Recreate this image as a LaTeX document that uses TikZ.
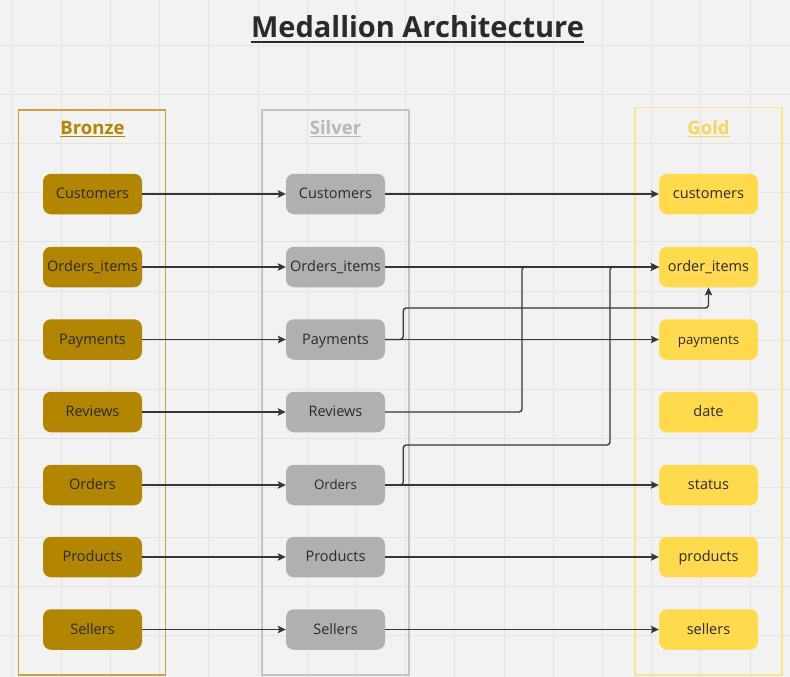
\documentclass[tikz,border=0pt]{standalone}
\usepackage{fontspec}
\setmainfont{Open Sans}
\usetikzlibrary{arrows.meta}

\definecolor{paper}{HTML}{F2F2F2}
\definecolor{gridgray}{HTML}{E3E3E3}
\definecolor{bronzefill}{HTML}{B38600}
\definecolor{bronzeline}{HTML}{CCA23E}
\definecolor{silverfill}{HTML}{B0B0B0}
\definecolor{silverline}{HTML}{C3C3C3}
\definecolor{silvertitle}{HTML}{B8B8B8}
\definecolor{goldfill}{HTML}{FFDA4C}
\definecolor{goldline}{HTML}{FAE38A}
\definecolor{goldtitle}{HTML}{F5D65C}
\definecolor{ink}{HTML}{2A2A2A}
\definecolor{wire}{HTML}{353535}

\tikzset{
  table/.style={rectangle, rounded corners=8pt, minimum width=99pt, minimum height=40.5pt,
    inner sep=0pt, text height=10.5pt, text depth=1.5pt, text=ink, font=\fontsize{14.5}{16}\selectfont},
  bronze/.style={table, fill=bronzefill},
  silver/.style={table, fill=silverfill},
  gold/.style={table, fill=goldfill},
  small/.style={font=\fontsize{13.3}{15}\selectfont},
  layer/.style={draw, line width=1.4pt, fill=none},
  heading/.style={inner sep=0pt, anchor=base, font=\bfseries\fontsize{18.5}{20}\selectfont},
  flow/.style={draw=wire, line width=1.3pt, rounded corners=3pt,
    -{Stealth[length=8pt, width=7.5pt, inset=1.5pt]}}
}

\begin{document}
\begin{tikzpicture}[x=1pt, y=-1pt]
\useasboundingbox (0,0) rectangle (790,677);
\fill[paper] (0,0) rectangle (790,677);
\foreach \i in {0,...,15} \draw[gridgray, line width=0.8pt] (12+49.2*\i,0) -- (12+49.2*\i,677);
\foreach \i in {0,...,12} \draw[gridgray, line width=0.8pt] (0,45+49.2*\i) -- (790,45+49.2*\i);

% title
\node[heading, font=\bfseries\fontsize{29}{32}\selectfont, text=ink] (title) at (417.5,38) {Medallion Architecture};
\draw[ink, line width=2.6pt] ([yshift=-4pt]title.base west) -- ([yshift=-4pt]title.base east);

% layers
\draw[layer, bronzeline] (18.5,110) rectangle (165.5,675);
\draw[layer, silverline] (262,110) rectangle (409,675);
\draw[layer, goldline] (635,107.7) rectangle (782,675);

\node[heading, text=bronzefill] (hb) at (92.5,134) {Bronze};
\node[heading, text=silvertitle] (hs) at (335.5,134) {Silver};
\node[heading, text=goldtitle] (hg) at (708.5,134) {Gold};
\draw[bronzefill, line width=1.5pt] ([yshift=-2.5pt]hb.base west) -- ([yshift=-2.5pt]hb.base east);
\draw[silvertitle, line width=1.5pt] ([yshift=-2.5pt]hs.base west) -- ([yshift=-2.5pt]hs.base east);
\draw[goldtitle, line width=1.5pt] ([yshift=-2.5pt]hg.base west) -- ([yshift=-2.5pt]hg.base east);

% bronze
\node[bronze] (b1) at (92.5,194) {Customers};
\node[bronze] (b2) at (92.5,267) {Orders\_items};
\node[bronze] (b3) at (92.5,339.5) {Payments};
\node[bronze] (b4) at (92.5,412) {Reviews};
\node[bronze] (b5) at (92.5,485) {Orders};
\node[bronze] (b6) at (92.5,557) {Products};
\node[bronze] (b7) at (92.5,629.5) {Sellers};

% silver
\node[silver] (s1) at (335.5,194) {Customers};
\node[silver] (s2) at (335.5,267) {Orders\_items};
\node[silver] (s3) at (335.5,339.5) {Payments};
\node[silver] (s4) at (335.5,412) {Reviews};
\node[silver, small] (s5) at (335.5,485) {Orders};
\node[silver] (s6) at (335.5,557) {Products};
\node[silver] (s7) at (335.5,629.5) {Sellers};

% gold
\node[gold] (g1) at (708.5,194) {customers};
\node[gold] (g2) at (708.5,267) {order\_items};
\node[gold, small] (g3) at (708.5,339.5) {payments};
\node[gold] (g4) at (708.5,412) {date};
\node[gold] (g5) at (708.5,485) {status};
\node[gold] (g6) at (708.5,557) {products};
\node[gold] (g7) at (708.5,629.5) {sellers};

\coordinate (j1) at (522,267);
\coordinate (j2) at (708.5,308);
\coordinate (j3) at (610,445);

\path[flow] (b1) -- (s1);
\path[flow] (b2) -- (s2);
\path[flow] (b3) -- (s3);
\path[flow] (b4) -- (s4);
\path[flow] (b5) -- (s5);
\path[flow] (b6) -- (s6);
\path[flow] (b7) -- (s7);

\path[flow] (s1) -- (g1);
\path[flow] (s2) -- (g2);
\path[flow] (s3) -- (g3);
\path[flow] (s5) -- (g5);
\path[flow] (s6) -- (g6);
\path[flow] (s7) -- (g7);

\path[flow] (s4.east) -| (j1) -- (g2.west);
\path[flow] (s3.east) -- ++(18,0) |- (j2) -- (g2.south);
\path[flow] (s5.east) -- ++(18,0) |- (j3) |- (g2.west);
\end{tikzpicture}
\end{document}
